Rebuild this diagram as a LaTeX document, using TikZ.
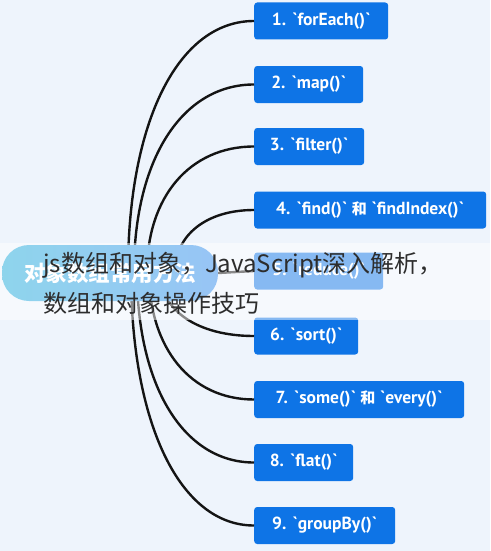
\documentclass[tikz,border=0pt]{standalone}
\usepackage{fontspec}
\newfontfamily\cjkfont{Noto Sans CJK SC}
\newfontfamily\boxfont{PT Sans}
\newcommand{\he}{{\cjkfont\bfseries\fontsize{15}{16}\selectfont 和}}
\usetikzlibrary{calc}
\definecolor{bgcol}{RGB}{238,244,252}
\definecolor{boxblue}{RGB}{14,116,230}
\definecolor{rootL}{RGB}{30,170,218}
\definecolor{rootR}{RGB}{48,138,236}
\definecolor{ovtext}{RGB}{45,45,45}
\tikzset{
  mbox/.style={draw=none,fill=boxblue,rounded corners=3pt,anchor=west,
    minimum height=37pt,inner sep=0pt,text=white,
    font=\boxfont\bfseries\fontsize{17.5}{19}\selectfont},
  conn/.style={line width=2.4pt,draw=black!92},
  rootnode/.style={rounded corners=27pt,minimum width=216pt,minimum height=56pt,
    left color=rootL,right color=rootR,text=white,inner sep=0pt,
    font=\cjkfont\bfseries\fontsize{21.5}{24}\selectfont},
}
\begin{document}
\begin{tikzpicture}[x=1pt,y=-1pt]
\fill[bgcol] (0,0) rectangle (490,551);
\useasboundingbox (0,0) rectangle (490,551);
% boxes
\node[mbox,minimum width=134pt] (b1) at (254,21) {1. `forEach()`};
\node[mbox,minimum width=109pt] (b2) at (254,84.5) {2. `map()`};
\node[mbox,minimum width=110pt] (b3) at (254,146.5) {3. `filter()`};
\node[mbox,minimum width=232pt] (b4) at (254,210) {4. `find()` \he{} `findIndex()`};
\node[mbox,minimum width=129pt] (b5) at (254,271) {5. `reduce()`};
\node[mbox,minimum width=104pt] (b6) at (254,336) {6. `sort()`};
\node[mbox,minimum width=210pt] (b7) at (254,399.5) {7. `some()` \he{} `every()`};
\node[mbox,minimum width=99pt] (b8) at (254,462.5) {8. `flat()`};
\node[mbox,minimum width=141pt] (b9) at (254,525.5) {9. `groupBy()`};
% curve origins (hidden under the root)
\coordinate (s1) at (128,272);
\coordinate (s2) at (134,272);
\coordinate (s3) at (147,272);
\coordinate (s4) at (175,272);
\coordinate (s6) at (160,272);
\coordinate (s7) at (149,272);
\coordinate (s8) at (137,272);
\coordinate (s9) at (131,272);
\draw[conn] (s1) .. controls +(0,-0.6*251) and +(-0.6*126,0) .. (b1.west);
\draw[conn] (s2) .. controls +(0,-0.6*187.5) and +(-0.6*120,0) .. (b2.west);
\draw[conn] (s3) .. controls +(0,-0.6*125.5) and +(-0.6*107,0) .. (b3.west);
\draw[conn] (s4) .. controls +(0,-0.6*62) and +(-0.6*79,0) .. (b4.west);
\draw[conn] (s6) .. controls +(0,0.6*64) and +(-0.6*94,0) .. (b6.west);
\draw[conn] (s7) .. controls +(0,0.6*127.5) and +(-0.6*105,0) .. (b7.west);
\draw[conn] (s8) .. controls +(0,0.6*190.5) and +(-0.6*117,0) .. (b8.west);
\draw[conn] (s9) .. controls +(0,0.6*253.5) and +(-0.6*123,0) .. (b9.west);
% root
\node[rootnode] (root) at (110,273) {对象数组常用方法};
\draw[conn] (root.east) -- (b5.west);
% overlay band
\fill[white,opacity=0.5] (0,243) rectangle (490,320);
\node[anchor=west,inner sep=0pt,align=left,text=ovtext,
  font=\cjkfont\fontsize{24}{40}\selectfont] (ov) at (43,283)
  {js数组和对象，JavaScript深入解析，\\数组和对象操作技巧};
\end{tikzpicture}
\end{document}
